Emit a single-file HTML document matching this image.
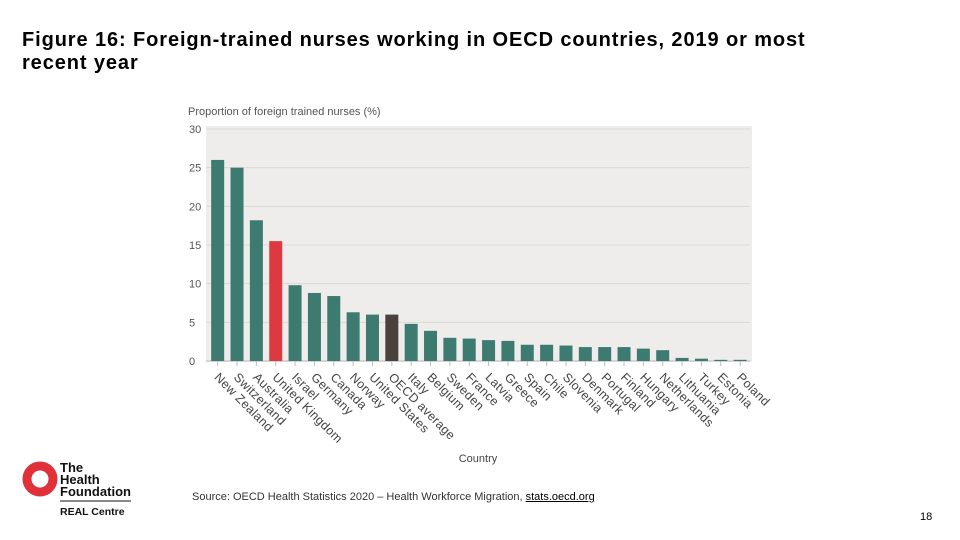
<!DOCTYPE html>
<html><head><meta charset="utf-8"><style>
body{margin:0;width:960px;height:540px;background:#fff;font-family:"Liberation Sans",sans-serif;position:relative;overflow:hidden}
#title{position:absolute;left:22px;top:29px;font-size:20px;font-weight:bold;line-height:23px;color:#000;letter-spacing:0.9px}
#src{position:absolute;left:192px;top:491px;font-size:11px;color:#333}
#src u{color:#000}
#pg{position:absolute;left:920px;top:511px;font-size:11px;color:#000}
</style></head><body>
<div id="title">Figure 16: Foreign-trained nurses working in OECD countries, 2019 or most<br>recent year</div>
<svg id="chart" width="960" height="540" style="position:absolute;left:0;top:0">
<rect x="206" y="126" width="546" height="236" fill="#eeedec"/>
<g id="grid"></g><g id="bars"></g><g id="xl"></g>
<text x="188" y="115" font-size="11" fill="#555">Proportion of foreign trained nurses (%)</text>
<text x="478" y="462" font-size="11" fill="#444" text-anchor="middle">Country</text>
<g>
<circle cx="40" cy="479" r="13" fill="none" stroke="#e0303a" stroke-width="9"/>
<text x="60" y="472" font-size="13" font-weight="bold" fill="#111">The</text>
<text x="60" y="484" font-size="13" font-weight="bold" fill="#111">Health</text>
<text x="60" y="496" font-size="13" font-weight="bold" fill="#111" textLength="71">Foundation</text>
<line x1="60" y1="501" x2="131" y2="501" stroke="#111" stroke-width="1"/>
<text x="60" y="515" font-size="10.5" font-weight="bold" fill="#111">REAL Centre</text>
</g>
</svg>
<div id="src">Source: OECD Health Statistics 2020 – Health Workforce Migration, <u>stats.oecd.org</u></div>
<div id="pg">18</div>
<script>
const categories=["New Zealand","Switzerland","Australia","United Kingdom","Israel","Germany","Canada","Norway","United States","OECD average","Italy","Belgium","Sweden","France","Latvia","Greece","Spain","Chile","Slovenia","Denmark","Portugal","Finland","Hungary","Netherlands","Lithuania","Turkey","Estonia","Poland"];
const values=[26,25,18.2,15.5,9.8,8.8,8.4,6.3,6.0,6.0,4.8,3.9,3.0,2.9,2.7,2.6,2.1,2.1,2.0,1.8,1.8,1.8,1.6,1.4,0.4,0.3,0.15,0.15];
const yTicks=[0,5,10,15,20,25,30];
const NS="http://www.w3.org/2000/svg";
const y0=361,y1=129,x0=208,step=19.35;
const yS=v=>y0-(v/30)*(y0-y1);
const xS=i=>x0+step*(i+0.5);
const g=document.getElementById('grid'),b=document.getElementById('bars'),xl=document.getElementById('xl');
function mk(tag,at,p){const e=document.createElementNS(NS,tag);for(const k in at)e.setAttribute(k,at[k]);p.appendChild(e);return e;}
yTicks.forEach(t=>{
 const l=mk('line',{x1:206,x2:750,y1:yS(t),y2:yS(t),stroke:t==0?'#bbb':'#dcdad2','stroke-width':1},g);
 
 
 const tx=mk('text',{x:189,y:yS(t)+4,'font-size':11,fill:'#555'},g);tx.textContent=t;
 
 
});
categories.forEach((c,i)=>{
 const x=xS(i),col=c=="United Kingdom"?'#dc3a40':(c=="OECD average"?'#4a403c':'#3d7a70');
 const r=mk('rect',{x:x-6.5,y:yS(values[i]),width:13,height:y0-yS(values[i]),fill:col},b);
 
 
 mk('line',{x1:x,x2:x,y1:y0,y2:y0+5,stroke:'#bbb'},xl);
 const lx=x-4,ly=y0+17;
 const t=mk('text',{x:lx,y:ly,'font-size':12.5,fill:'#444','letter-spacing':0.3,transform:`rotate(45 ${lx} ${ly})`},xl);
 t.textContent=c;
 
 
});
</script>
</body></html>
